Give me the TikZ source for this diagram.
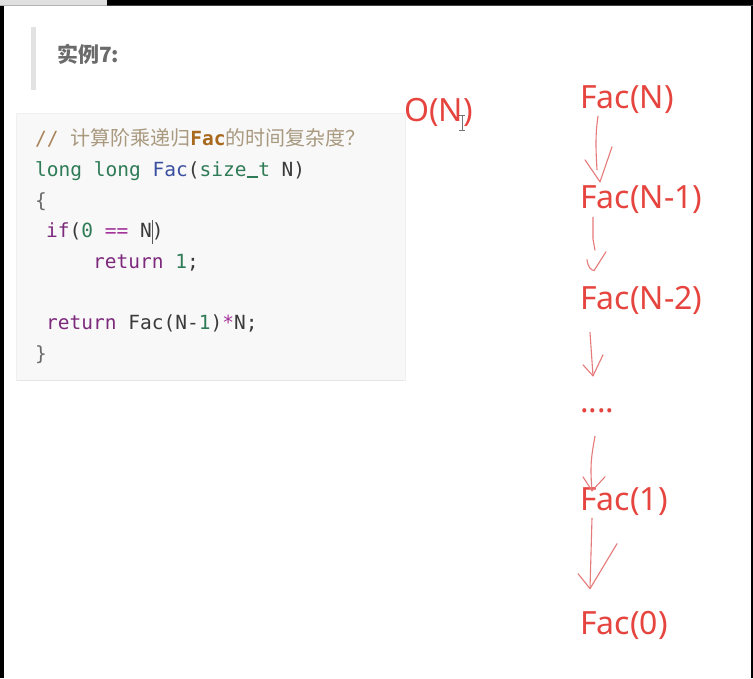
\documentclass[tikz,border=0pt]{standalone}
\usepackage{fontspec}
\setmainfont{Noto Sans}
\newfontfamily\cjk{Noto Sans CJK SC}
\newfontfamily\monof{DejaVu Sans Mono}
\newfontfamily\redf{Noto Sans}
\usetikzlibrary{calc}
\definecolor{cmt}{HTML}{A88458}
\definecolor{cmtz}{HTML}{A8997F}
\definecolor{facb}{HTML}{A8691E}
\definecolor{kw}{HTML}{2F7B57}
\definecolor{fnc}{HTML}{3A4FA0}
\definecolor{plain}{HTML}{3A3A3A}
\definecolor{purp}{HTML}{7D2A7D}
\definecolor{mag}{HTML}{A3329B}
\definecolor{num}{HTML}{2F7B57}
\definecolor{brace}{HTML}{6A6A6A}
\definecolor{codebg}{HTML}{F8F8F8}
\definecolor{codeline}{HTML}{F0F0F0}
\definecolor{quotebar}{HTML}{E2E2E2}
\definecolor{headgray}{HTML}{6B6B6B}
\definecolor{redtxt}{HTML}{E5453E}
\definecolor{redarrow}{HTML}{E67A7A}
\newcommand{\monoul}{\makebox[0.602em][l]{\rule[-1.5pt]{0.602em}{1.5pt}}}
\tikzset{
  codeln/.style={anchor=base west, inner sep=0pt, font=\monof\fontsize{19.5}{19.5}\selectfont, text=plain},
  redlbl/.style={anchor=west, inner sep=0pt, font=\redf\fontsize{32}{32}\selectfont, text=redtxt},
  hand/.style={draw=redarrow, line width=1.1pt, line cap=round, line join=round},
}
\begin{document}
\begin{tikzpicture}[x=1pt,y=-1pt]
\useasboundingbox (0,0) rectangle (753,678);
\fill[white] (0,0) rectangle (753,678);
% window frame
\fill[black!12] (0,0) rectangle (107,5);
\fill[black] (107,0) rectangle (753,5);
\fill[black!75] (107,4.5) rectangle (753,6);
\fill[black!30] (0,4.5) rectangle (107,6);
\fill[black] (0,6) rectangle (4,678);
\fill[black] (751,6) rectangle (753,678);
% quote block
\fill[quotebar] (31,27) rectangle (35.5,90);
\node[anchor=west, inner sep=0pt, text=headgray, font=\cjk\bfseries\fontsize{21}{21}\selectfont] (title) at (57,54) {实例7:};
% code box
\fill[codebg, draw=codeline] (16,113) rectangle (405,380);
\draw[black!10, line width=0.8pt] (17,380.5) -- (404,380.5);
\node[codeln] (c1) at (35,145) {{\color{cmt}// }{\cjk\fontsize{20}{20}\selectfont\color{cmtz}计算阶乘递归}{\bfseries\color{facb}Fac}{\cjk\fontsize{20}{20}\selectfont\color{cmtz}的时间复杂度？}};
\node[codeln] (c2) at (35,176) {{\color{kw}long long} {\color{fnc}Fac}({\color{kw}size\monoul t} N)};
\node[codeln, text=brace] (c3) at (35,207) {\{};
\node[codeln] (c4) at (46,237) {{\color{purp}if}({\color{num}0} {\color{mag}==} N)};
\node[codeln] (c5) at (93,268) {{\color{purp}return} {\color{num}1};};
\node[codeln] (c7) at (46,329) {{\color{purp}return} Fac(N-{\color{num}1}){\color{mag}*}N;};
\node[codeln, text=brace] (c8) at (35,360) {\}};
% text cursor in code
\draw[black!65, line width=0.9pt] (152.5,220) -- (152.5,244);
% red labels
\node[redlbl] (on) at (404,112) {O(N)};
\node[redlbl] (f0) at (580,100) {Fac(N)};
\node[redlbl] (f1) at (580,200) {Fac(N-1)};
\node[redlbl] (f2) at (580,300) {Fac(N-2)};
\node[redlbl] (dots) at (580,404) {\vphantom{(}....};
\node[redlbl] (f3) at (580,502) {Fac(1)};
\node[redlbl] (f4) at (580,625) {Fac(0)};
% mouse I-beam cursor
\draw[black!55, line width=1pt] (462,115) -- (462,130);
\draw[black!55, line width=1pt] (459,115) -- (465,115) (459,130) -- (465,130);
% hand-drawn arrows
\coordinate (a1s) at ($(f0.south west)+(18,2)$);
\coordinate (a1t) at ($(f1.north west)+(20,-4)$);
\draw[hand] (a1s) .. controls ($(a1s)+(-3,20)$) and ($(a1t)+(-4,-30)$) .. ($(a1t)+(-3,-12)$);
\draw[hand] ($(a1t)+(-15,-22)$) -- (a1t) -- ($(a1t)+(12,-35)$);
\coordinate (a2s) at ($(f1.south west)+(13,3)$);
\coordinate (a2t) at ($(f2.north west)+(16,-16)$);
\draw[hand] (a2s) -- ($(a2s)+(0,22)$) -- ($(a2s)+(2,33)$);
\draw[hand] ($(a2t)+(-9,-10)$) .. controls ($(a2t)+(-8,-2)$) and ($(a2t)+(-5,0)$) .. ($(a2t)+(-2,1)$) -- ($(a2t)+(10,-18)$);
\coordinate (a3s) at ($(f2.south west)+(10,18)$);
\coordinate (a3t) at ($(dots.north west)+(13,-14)$);
\draw[hand] (a3s) -- (a3t);
\draw[hand] ($(a3t)+(-10,-11)$) -- (a3t) -- ($(a3t)+(10,-21)$);
\coordinate (a4s) at ($(dots.south west)+(15,18)$);
\coordinate (a4t) at ($(f3.north west)+(12,3)$);
\draw[hand] (a4s) .. controls ($(a4s)+(-4,22)$) and ($(a4t)+(-2,-25)$) .. (a4t);
\draw[hand] ($(a4t)+(-9,-14)$) -- (a4t) -- ($(a4t)+(13,-14)$);
\coordinate (a5s) at ($(f3.south west)+(12,2)$);
\coordinate (a5t) at ($(f4.north west)+(10,-22)$);
\draw[hand] (a5s) -- (a5t);
\draw[hand] ($(a5t)+(-12,-15)$) -- (a5t) -- ($(a5t)+(27,-45)$);
\end{tikzpicture}
\end{document}
